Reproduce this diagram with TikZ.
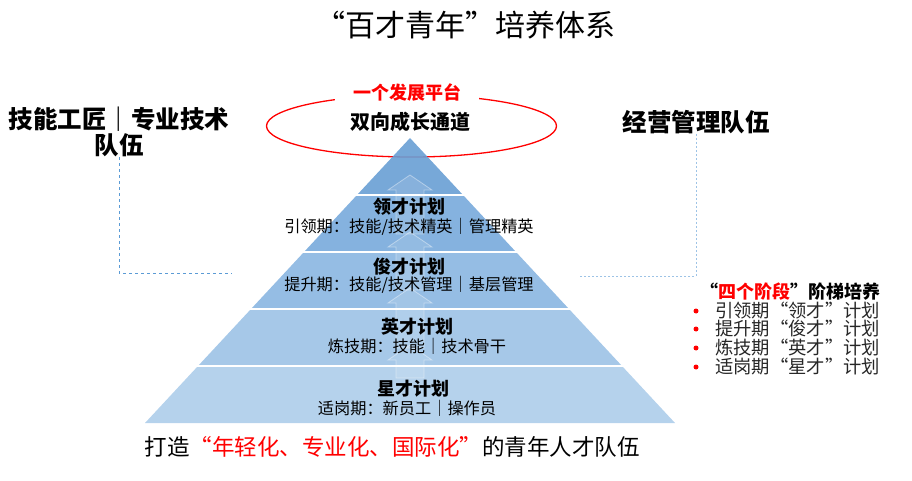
\documentclass[tikz,border=0pt]{standalone}
\usepackage{fontspec}
\setmainfont{Noto Sans CJK SC}
\usetikzlibrary{calc,positioning}
\definecolor{tierone}{RGB}{104,158,212}
\definecolor{tiertwo}{RGB}{120,170,219}
\definecolor{tierthree}{RGB}{138,182,225}
\definecolor{tierfour}{RGB}{156,194,230}
\definecolor{tierfive}{RGB}{173,205,234}
\definecolor{linkblue}{RGB}{91,155,213}
\definecolor{linklight}{RGB}{157,195,230}
\definecolor{hotred}{RGB}{255,0,0}

\begin{document}
\begin{tikzpicture}[x=1pt,y=-1pt]
  \tikzset{
    head/.style={font=\fontsize{24.5}{26}\selectfont\bfseries,align=center,inner sep=0pt},
    tiername/.style={font=\fontsize{18}{20}\selectfont\bfseries,inner sep=0pt},
    tiersub/.style={font=\fontsize{16.2}{18}\selectfont,inner sep=0pt},
    lift/.style={fill=white,fill opacity=0.12,draw=white,draw opacity=0.4,line width=0.8pt},
    link/.style={draw=linkblue,dashed,line width=1pt},
    item/.style={font=\fontsize{18.3}{20}\selectfont,text=black!85,anchor=west,inner sep=0pt},
    bullet/.style={circle,fill=hotred,inner sep=0pt,minimum size=5pt},
  }
  \useasboundingbox (0,0) rectangle (912,481);
  \coordinate (apex) at (410,138);
  \coordinate (bl) at (145,423);
  \coordinate (br) at (675,423);

  \node[font=\fontsize{30}{34}\selectfont,inner sep=0pt] (title) at (465,25) {“百才青年”培养体系};

  \draw[hotred,line width=1.3pt] (411.5,126) ellipse [x radius=145,y radius=31];
  \node[fill=white,inner xsep=18pt,inner ysep=1pt,text=hotred,font=\fontsize{18}{20}\selectfont\bfseries] (platform) at (407,93) {一个发展平台};

  \foreach \i/\c in {0/tierone,1/tiertwo,2/tierthree,3/tierfour,4/tierfive} {
    \pgfmathsetmacro\a{\i/5} \pgfmathsetmacro\b{(\i+1)/5}
    \fill[\c,fill opacity=0.9] ($(apex)!\a!(bl)$) -- ($(apex)!\b!(bl)$) -- ($(apex)!\b!(br)$) -- ($(apex)!\a!(br)$) -- cycle;
  }
  \foreach \t in {0.2,0.4,0.6,0.8}
    \draw[white,line width=2.5pt] ($(apex)!\t!(bl)+(-2,0)$) -- ($(apex)!\t!(br)+(2,0)$);

  \foreach \tip/\tail in {175/234,232/290,288/348,345/378}
    \draw[lift] (410,\tip) -- (432,{\tip+15}) -- (424,{\tip+15}) -- (424,\tail)
      -- (396,\tail) -- (396,{\tip+15}) -- (388,{\tip+15}) -- cycle;

  \node[head,font=\fontsize{20}{22}\selectfont\bfseries] (channel) at (410,122) {双向成长通道};

  \node[tiername] (lingcai) at (409,207) {领才计划};
  \node[tiersub] (lingcaisub) at (409,227) {引领期：技能/技术精英｜管理精英};
  \node[tiername] (juncai) at (409,267) {俊才计划};
  \node[tiersub] (juncaisub) at (409,285) {提升期：技能/技术管理｜基层管理};
  \node[tiername] (yingcai) at (417,327) {英才计划};
  \node[tiersub] (yingcaisub) at (417,346) {炼技期：技能｜技术骨干};
  \node[tiername] (xingcai) at (413,389) {星才计划};
  \node[tiersub] (xingcaisub) at (407,408) {适岗期：新员工｜操作员};

  \node[head] (skillteam) at (119,132) {技能工匠｜专业技术\\队伍};
  \node[head] (mgmtteam) at (696,122) {经营管理队伍};
  \coordinate (skillend) at (232,273);
  \coordinate (mgmtend) at (579,276);
  \draw[link] (skillteam.south) |- (skillend);
  \draw[link,draw=linklight,dash pattern=on 2pt off 2pt] (mgmtteam.south) |- (mgmtend);

  \node[anchor=west,inner sep=0pt,font=\fontsize{18}{20}\selectfont\bfseries] (stages) at (700,292) {“{\color{hotred}四个阶段}”阶梯培养};
  \foreach \n/\y/\t in {a/311/引领期“领才”计划,b/329/提升期“俊才”计划,c/348/炼技期“英才”计划,d/367/适岗期“星才”计划} {
    \node[bullet] (dot\n) at (696,\y) {};
    \node[item] (stage\n) at (715,\y) {\t};
  }

  \node[font=\fontsize{22.5}{26}\selectfont,inner sep=0pt] (motto) at (392,447) {打造{\color{hotred}“年轻化、专业化、国际化”}的青年人才队伍};
\end{tikzpicture}
\end{document}
